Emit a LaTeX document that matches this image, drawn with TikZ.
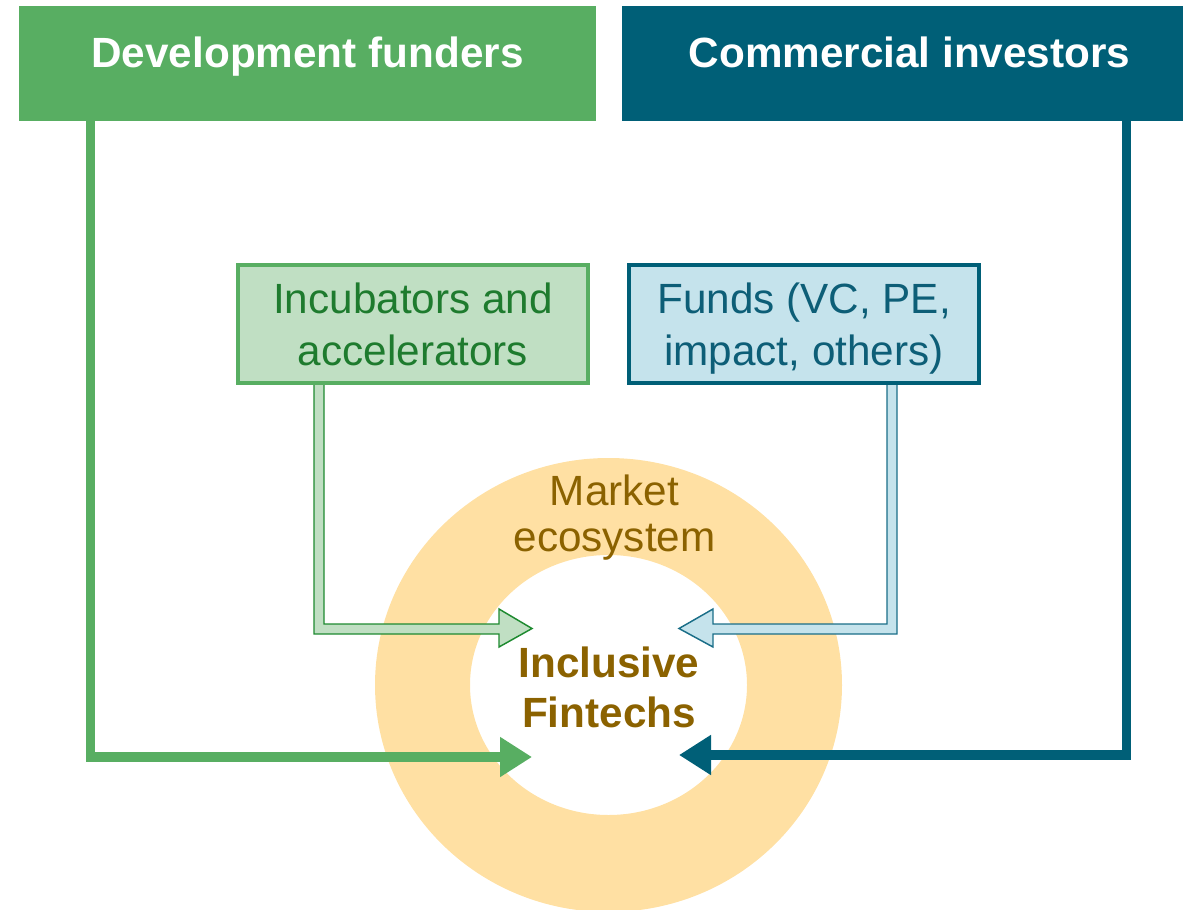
\documentclass[tikz,border=0pt]{standalone}
\usepackage{fontspec}
\setmainfont{Liberation Sans}
\usetikzlibrary{arrows.meta,calc}
\definecolor{dgreen}{HTML}{58AE62}
\definecolor{lgreen}{HTML}{C0DFC3}
\definecolor{ogreen}{HTML}{1E8A30}
\definecolor{tgreen}{HTML}{1E7B2E}
\definecolor{teal}{HTML}{005F77}
\definecolor{lteal}{HTML}{C5E3EC}
\definecolor{oteal}{HTML}{1A6E88}
\definecolor{tteal}{HTML}{0D5E77}
\definecolor{ring}{HTML}{FFE0A3}
\definecolor{brown}{HTML}{8B6200}
\tikzset{
  txt/.style={font=\fontsize{31.7}{39}\selectfont, align=center, inner sep=0pt},
  title/.style={txt, font=\fontsize{31.7}{39}\selectfont\bfseries, text=white, anchor=base},
  topbox/.style={rectangle, inner sep=0pt, minimum height=115*0.75pt},
  midbox/.style={rectangle, txt, line width=3pt, minimum width=350*0.75pt, minimum height=118*0.75pt,
                 text height=62pt, text depth=0pt},
  solidarrow/.style={line width=7pt, -{Triangle[length=24pt,width=28.5pt]}},
  hollow/.style={line width=1.1pt, line join=miter},
}
\begin{document}
\begin{tikzpicture}[x=0.75pt,y=-0.75pt]
\useasboundingbox (0,0) rectangle (1196,910);
% ring
\fill[ring, even odd rule] (608.5,685) ellipse [x radius=233.5, y radius=227]
                                       (608.5,685) ellipse [x radius=138.5, y radius=130];
% top boxes
\node[topbox, fill=dgreen, minimum width=577*0.75pt] (dev) at (307.5,63.5) {};
\node[topbox, fill=teal, minimum width=561*0.75pt] (com) at (902.5,63.5) {};
\node[title] (devt) at (307.5,67) {Development funders};
\node[title] (comt) at (909.5,67) {Commercial investors};
% centre text
\node[txt, text=brown, font=\fontsize{31.7}{34.5}\selectfont] (mkt) at (614.5,518) {Market\\ecosystem};
\node[txt, text=brown, font=\fontsize{31.7}{37.5}\selectfont\bfseries] (fin) at (609,687) {Inclusive\\Fintechs};
% coordinates for connectors
\coordinate (gtip) at (532,757);
\coordinate (ttip) at (679,755);
% solid arrows
\draw[solidarrow, dgreen] (dev.south west) ++(72,0) |- (gtip);
\draw[solidarrow, teal] (com.south east) ++(-57,0) |- (ttip);
% hollow arrow shapes (drawn before mid boxes)
\coordinate (incb) at (238,383);
\coordinate (fndb) at (629,383);
\filldraw[hollow, fill=lgreen, draw=ogreen]
  ($(incb)+(76,0)$) -- ($(incb)+(76,251)$) -- (499,634) -- (499,647) -- (532,628.5)
  -- (499,609) -- (499,624) -- ($(incb)+(86,241)$) -- ($(incb)+(86,0)$) -- cycle;
\filldraw[hollow, fill=lteal, draw=oteal]
  ($(fndb)+(268,0)$) -- ($(fndb)+(268,251)$) -- (713,634) -- (713,647) -- (679,628.5)
  -- (713,609) -- (713,624) -- ($(fndb)+(258,241)$) -- ($(fndb)+(258,0)$) -- cycle;
% middle boxes
\node[midbox, draw=dgreen, fill=lgreen, text=tgreen] (inc) at (413,324) {Incubators and\\accelerators};
\node[midbox, draw=teal, fill=lteal, text=tteal] (fnd) at (804,324) {Funds (VC, PE,\\impact, others)};
\end{tikzpicture}
\end{document}
